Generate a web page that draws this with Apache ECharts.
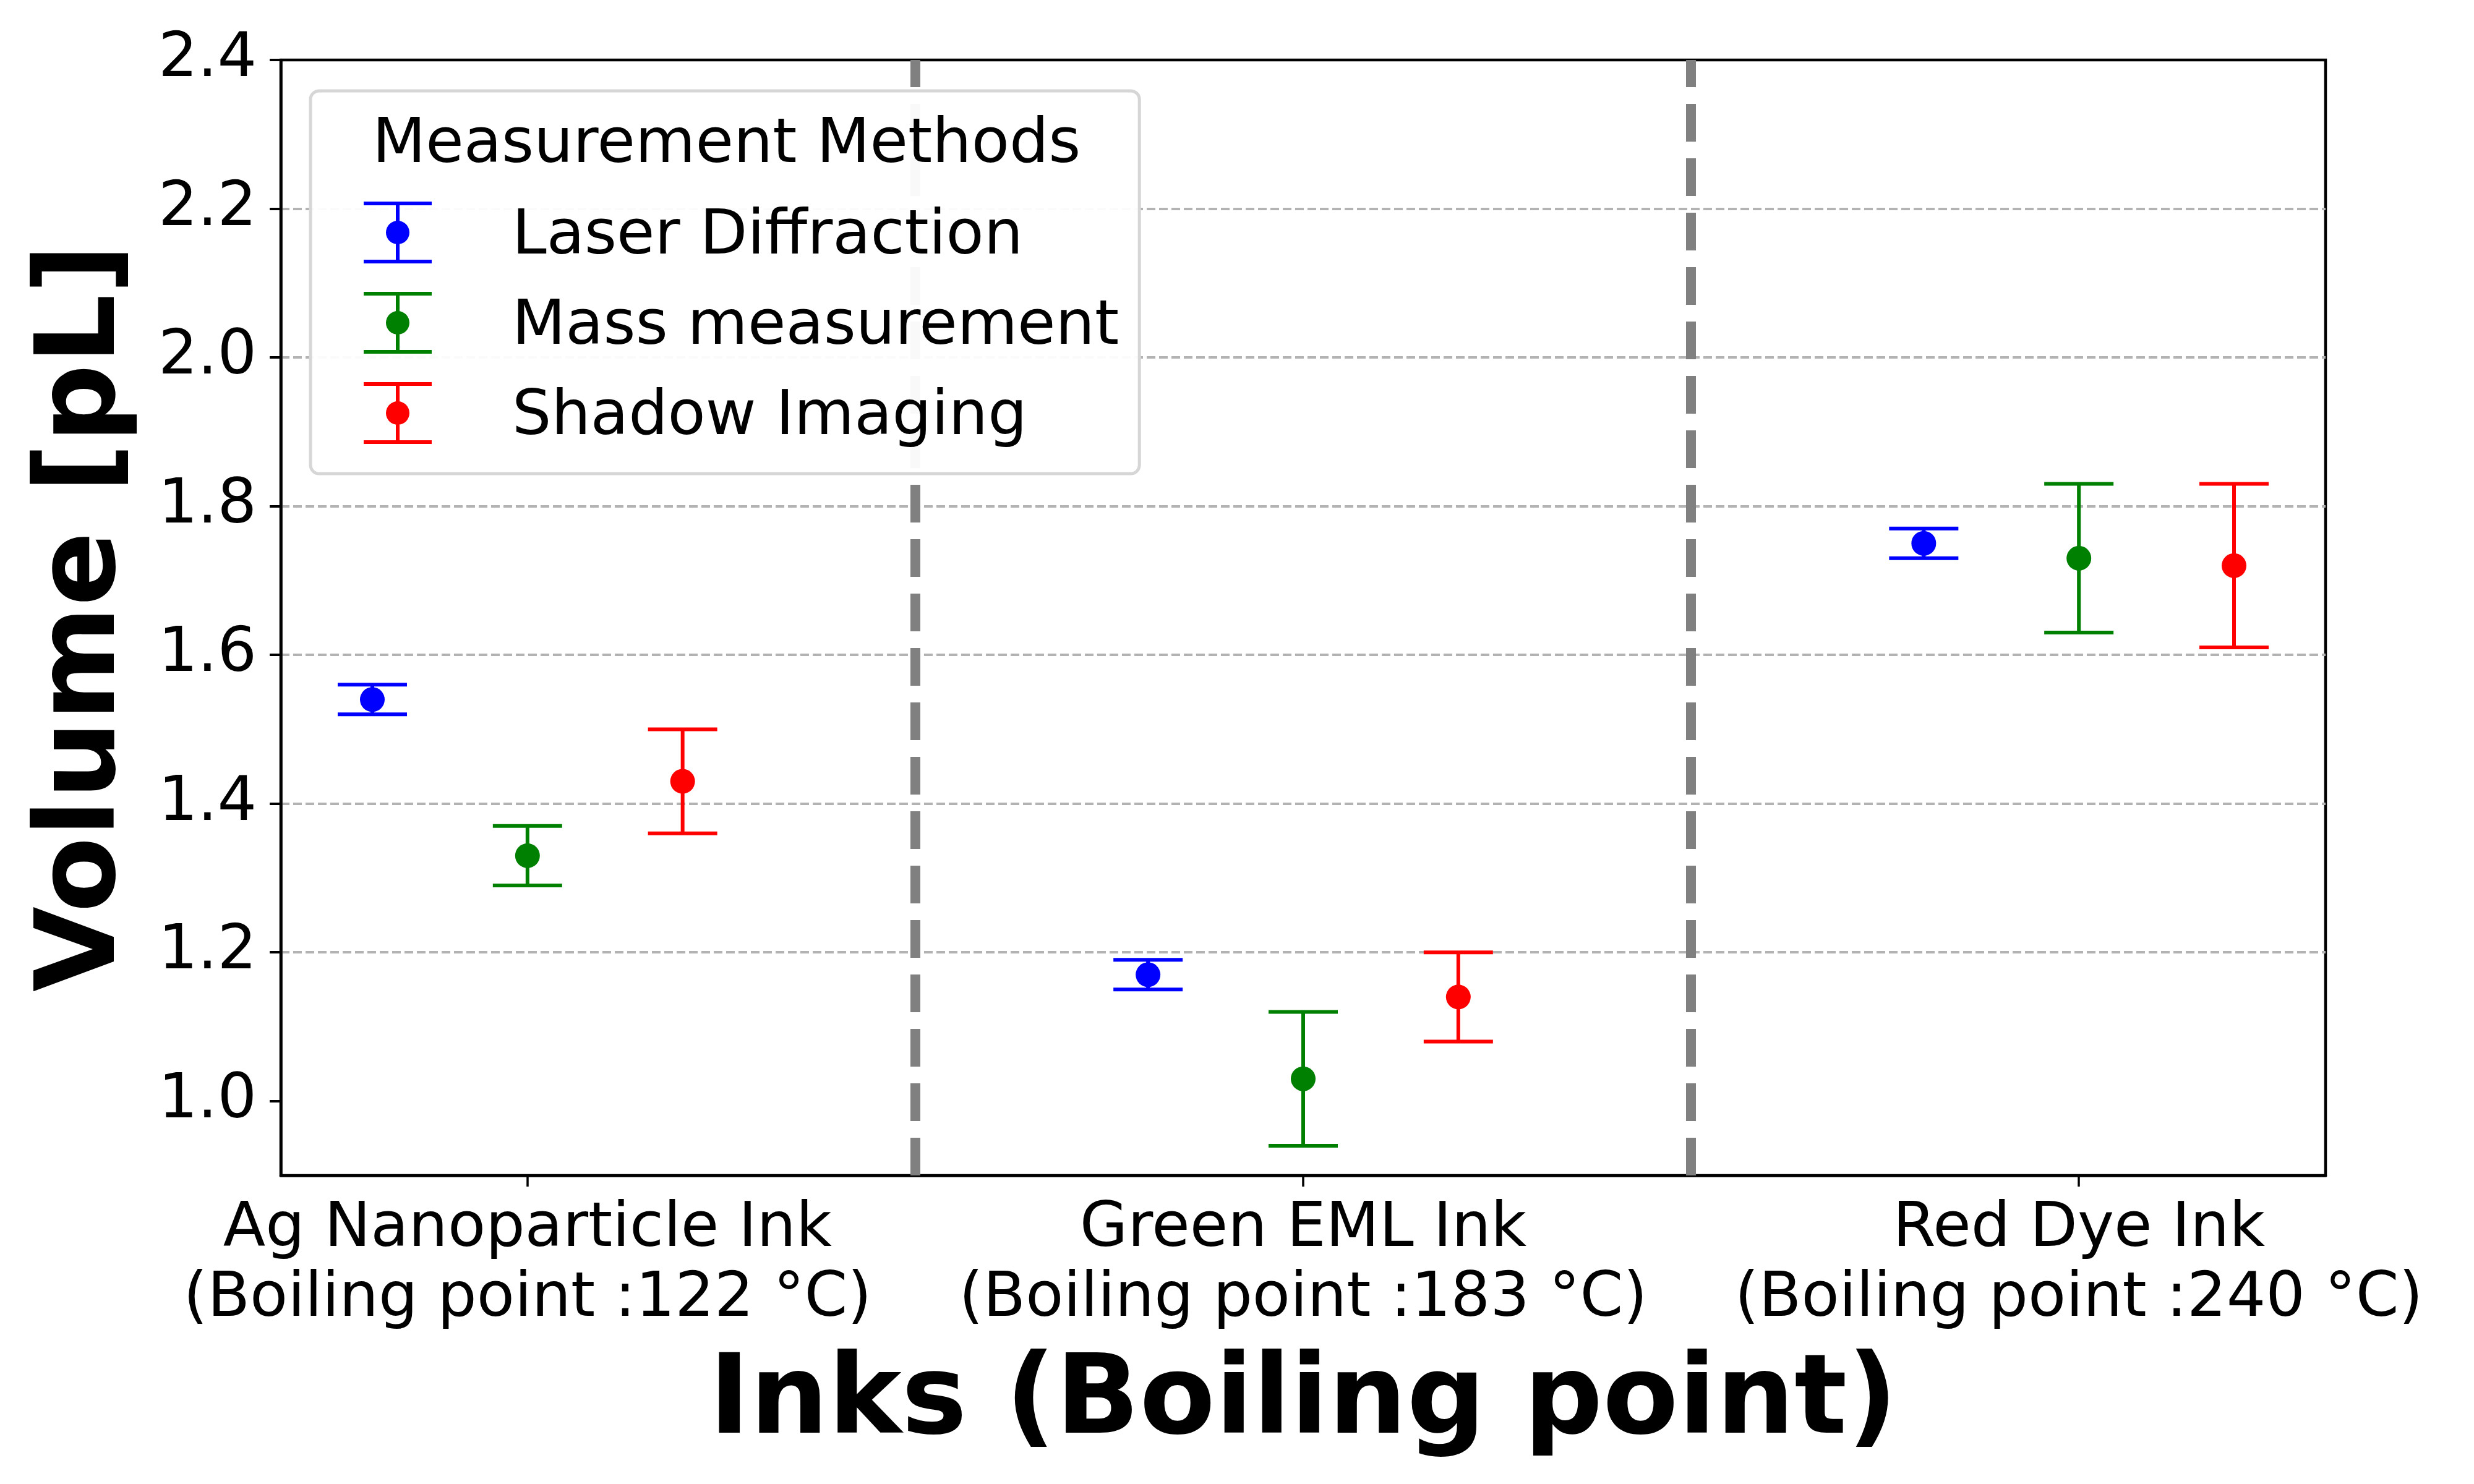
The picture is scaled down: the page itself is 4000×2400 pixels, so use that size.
<!DOCTYPE html>
<html>
<head>
<meta charset="utf-8">
<script src="https://cdn.jsdelivr.net/npm/echarts@6/dist/echarts.min.js"></script>
<style>
  html, body { margin: 0; padding: 0; background: #fff; }
  #main { width: 4000px; height: 2400px; }
</style>
</head>
<body>
<div id="main"></div>
<script>
// data
var inks = [
    'Ag Nanoparticle Ink\n(Boiling point :122 °C)',
    'Green EML Ink\n(Boiling point :183 °C)',
    'Red Dye Ink\n(Boiling point :240 °C)'
];
var methods = ['Laser Diffraction', 'Mass measurement', 'Shadow Imaging'];
var colors = ['#0000ff', '#008000', '#ff0000'];
var offsets = [-0.2, 0, 0.2];

var laserMean  = [1.54, 1.17, 1.75];
var laserErr   = [0.02, 0.02, 0.02];
var massMean   = [1.33, 1.03, 1.73];
var massErr    = [0.04, 0.09, 0.10];
var shadowMean = [1.43, 1.14, 1.72];
var shadowErr  = [0.07, 0.06, 0.11];

var yTicks = [1.0, 1.2, 1.4, 1.6, 1.8, 2.0, 2.2, 2.4];
var xTicks = [0, 1, 2];
var dividers = [0.5, 1.5];

var FONT = 'DejaVu Sans';
var means = [laserMean, massMean, shadowMean];
var errs = [laserErr, massErr, shadowErr];

// errorbar shaped legend icon (caps + stem + dot); the speck at the bottom
// pads the box so the label sits a little lower than the dot, like matplotlib
var errIcon = 'path://M0,0 H110 V6 H0 Z M52,6 H58 V94 H52 Z M0,94 H110 V100 H0 Z ' +
    'M74,50 A19,19 0 1,1 36,50 A19,19 0 1,1 74,50 Z M55,116 h0.01 v0.01 h-0.01 Z';

function renderErrorBar(params, api) {
    var x = api.value(0);
    var lo = api.coord([x, api.value(1)]);
    var hi = api.coord([x, api.value(2)]);
    var half = 56;
    var st = { stroke: api.visual('color'), lineWidth: 6 };
    return {
        type: 'group',
        children: [
            { type: 'line', shape: { x1: lo[0], y1: lo[1], x2: hi[0], y2: hi[1] }, style: st },
            { type: 'line', shape: { x1: lo[0] - half, y1: lo[1], x2: lo[0] + half, y2: lo[1] }, style: st },
            { type: 'line', shape: { x1: hi[0] - half, y1: hi[1], x2: hi[0] + half, y2: hi[1] }, style: st }
        ]
    };
}

var series = [];
methods.forEach(function (name, m) {
    var bars = [], pts = [];
    for (var i = 0; i < inks.length; i++) {
        var x = i + offsets[m];
        bars.push([x, means[m][i] - errs[m][i], means[m][i] + errs[m][i]]);
        pts.push([x, means[m][i]]);
    }
    var bar = {
        name: name,
        type: 'custom',
        renderItem: renderErrorBar,
        itemStyle: { color: colors[m] },
        encode: { x: 0, y: [1, 2] },
        data: bars,
        z: 3
    };
    if (m === 0) {
        bar.markLine = {
            silent: true,
            symbol: ['none', 'none'],
            label: { show: false },
            lineStyle: { color: '#808080', width: 16, type: [61, 27] },
            data: dividers.map(function (v) { return { xAxis: v }; })
        };
    }
    series.push(bar);
    series.push({
        name: name,
        type: 'scatter',
        symbol: 'circle',
        symbolSize: 40,
        itemStyle: { color: colors[m], opacity: 1 },
        data: pts,
        z: 4
    });
});

var myChart = echarts.init(document.getElementById('main'));
var option = {
    backgroundColor: '#fff',
    animation: false,
    title: {
        text: 'Measurement Methods',
        left: 602,
        top: 186,
        padding: 0,
        zlevel: 1,
        z: 21,
        textStyle: { fontFamily: FONT, fontSize: 100, fontWeight: 'normal', color: '#000', lineHeight: 100 }
    },
    legend: {
        orient: 'vertical',
        left: 502,
        top: 147,
        zlevel: 1,
        z: 20,
        padding: [179, 33, 32, 86],
        itemWidth: 110,
        itemHeight: 116,
        itemGap: 30,
        icon: errIcon,
        backgroundColor: 'rgba(255,255,255,0.95)',
        borderColor: '#d6d6d6',
        borderWidth: 5,
        borderRadius: 14,
        selectedMode: false,
        textStyle: {
            fontFamily: FONT, fontSize: 100, color: '#000',
            lineHeight: 100, padding: [0, 0, 0, 125]
        },
        data: methods
    },
    grid: {
        left: 454, right: 240, top: 97, bottom: 499,
        show: true, borderColor: '#000', borderWidth: 4.5,
        backgroundColor: 'transparent'
    },
    xAxis: {
        type: 'value',
        min: -0.318,
        max: 2.318,
        name: 'Inks (Boiling point)',
        nameLocation: 'middle',
        nameGap: 228,
        nameTextStyle: { fontFamily: FONT, fontSize: 178, fontWeight: 'bold', color: '#000', lineHeight: 214 },
        axisLine: { show: true, onZero: false, lineStyle: { color: '#000', width: 4.5 } },
        axisTick: { show: true, length: 18, customValues: xTicks, lineStyle: { color: '#000', width: 3.5 } },
        axisLabel: {
            customValues: xTicks,
            margin: 32,
            fontFamily: FONT, fontSize: 100, color: '#000', lineHeight: 113,
            formatter: function (v) { return inks[Math.round(v)]; }
        },
        splitLine: { show: false }
    },
    yAxis: {
        type: 'value',
        min: 0.9,
        max: 2.4,
        name: 'Volume [pL]',
        nameLocation: 'middle',
        nameGap: 209,
        nameRotate: 90,
        nameTextStyle: { fontFamily: FONT, fontSize: 178, fontWeight: 'bold', color: '#000', lineHeight: 214 },
        axisLine: { show: true, onZero: false, lineStyle: { color: '#000', width: 4.5 } },
        axisTick: { show: true, length: 18, customValues: yTicks, lineStyle: { color: '#000', width: 4 } },
        axisLabel: {
            customValues: yTicks,
            margin: 39,
            fontFamily: FONT, fontSize: 100, color: '#000',
            formatter: function (v) { return v.toFixed(1); }
        },
        splitLine: {
            show: true, showMinLine: false, showMaxLine: false,
            lineStyle: { color: '#b3b3b3', width: 4, type: [14, 6] }
        }
    },
    series: series
};
myChart.setOption(option);
</script>
</body>
</html>
